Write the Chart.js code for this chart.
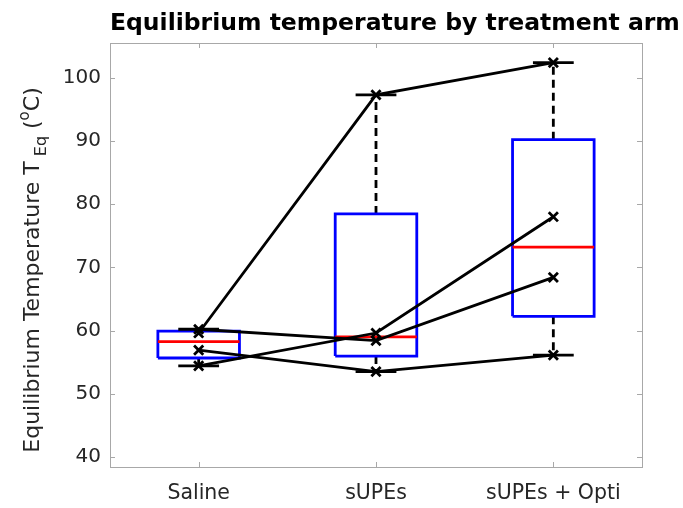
<!DOCTYPE html>
<html>
<head>
<meta charset="utf-8">
<script src="https://cdn.jsdelivr.net/npm/chart.js@4.4.0/dist/chart.umd.min.js"></script>
<style>
  html, body { margin: 0; padding: 0; background: #ffffff; }
  #wrap { width: 683px; height: 508px; }
</style>
</head>
<body>
<div id="wrap"><canvas id="c" width="683" height="508"></canvas></div>
<script>
// Treatment arms along the x axis
const categories = ['Saline', 'sUPEs', 'sUPEs + Opti'];

// Equilibrium temperature (°C) of each subject in each arm
const subjectA = [59.6, 97.3, 102.4];
const subjectB = [60.2, 58.4, 68.4];
const subjectC = [54.4, 59.6, 78.0];
const subjectD = [56.9, 53.5, 56.1];
const subjects = [subjectA, subjectB, subjectC, subjectD];

// Axis ticks and ranges
const yTicks = [40, 50, 60, 70, 80, 90, 100];
const yRange = [38.4, 105.5];
const xRange = [0.5, 3.5];

const FONT = '"DejaVu Sans", Verdana, sans-serif';
const BOX_HALF = 0.23;      // half box width, in category units
const CAP_HALF = BOX_HALF / 2;

// Percentile with the midpoint rule: sample i sits at (i - 0.5) / n
function pct(sorted, p) {
  const n = sorted.length;
  const pos = p * n + 0.5;           // 1-based position
  if (pos <= 1) return sorted[0];
  if (pos >= n) return sorted[n - 1];
  const lo = Math.floor(pos);
  const f = pos - lo;
  return sorted[lo - 1] + f * (sorted[lo] - sorted[lo - 1]);
}

function boxStats(values) {
  const s = values.slice().sort((a, b) => a - b);
  const q1 = pct(s, 0.25), med = pct(s, 0.5), q3 = pct(s, 0.75);
  const iqr = q3 - q1;
  const hi = Math.max(...s.filter(v => v <= q3 + 1.5 * iqr));
  const lo = Math.min(...s.filter(v => v >= q1 - 1.5 * iqr));
  return { q1, med, q3, lo, hi };
}

const datasets = [];

// Subject trajectories, drawn above the boxes
subjects.forEach(vals => {
  datasets.push({
    data: vals.map((v, i) => ({ x: i + 1, y: v })),
    showLine: true,
    borderColor: '#000000',
    borderWidth: 2.8,
    pointStyle: 'crossRot',
    pointRadius: 6.5,
    pointBorderWidth: 2.8,
    pointBorderColor: '#000000',
    pointBackgroundColor: '#000000'
  });
});

const lineSet = (pts, color, dash) => ({
  data: pts,
  showLine: true,
  borderColor: color,
  borderWidth: 2.8,
  borderDash: dash || [],
  borderJoinStyle: 'miter',
  borderCapStyle: 'butt',
  pointRadius: 0,
  pointHoverRadius: 0
});

categories.forEach((name, i) => {
  const c = i + 1;
  const st = boxStats(subjects.map(s => s[i]));
  // median
  datasets.push(lineSet([{ x: c - BOX_HALF, y: st.med }, { x: c + BOX_HALF, y: st.med }], '#ff0000'));
  // whisker caps
  datasets.push(lineSet([{ x: c - CAP_HALF, y: st.hi }, { x: c + CAP_HALF, y: st.hi }], '#000000'));
  datasets.push(lineSet([{ x: c - CAP_HALF, y: st.lo }, { x: c + CAP_HALF, y: st.lo }], '#000000'));
  // box
  datasets.push(lineSet([
    { x: c - BOX_HALF, y: st.q1 }, { x: c + BOX_HALF, y: st.q1 },
    { x: c + BOX_HALF, y: st.q3 }, { x: c - BOX_HALF, y: st.q3 },
    { x: c - BOX_HALF, y: st.q1 }
  ], '#0000ff'));
  // dashed whiskers
  datasets.push(lineSet([{ x: c, y: st.q3 }, { x: c, y: st.hi }], '#000000', [8, 5]));
  datasets.push(lineSet([{ x: c, y: st.q1 }, { x: c, y: st.lo }], '#000000', [8, 5]));
});

// Axes frame, inward tick marks, title and y-axis label with sub/superscripts
const decorations = {
  id: 'decorations',
  afterDraw(chart) {
    const { ctx, chartArea: a, scales } = chart;
    ctx.save();
    ctx.strokeStyle = '#a8a8a8';
    ctx.lineWidth = 1;
    ctx.strokeRect(a.left + 0.5, a.top + 0.5, a.right - a.left, a.bottom - a.top);
    ctx.beginPath();
    yTicks.forEach(v => {
      const y = Math.round(scales.y.getPixelForValue(v)) + 0.5;
      ctx.moveTo(a.left, y); ctx.lineTo(a.left + 5, y);
      ctx.moveTo(a.right, y); ctx.lineTo(a.right - 5, y);
    });
    [1, 2, 3].forEach(v => {
      const x = Math.round(scales.x.getPixelForValue(v)) + 0.5;
      ctx.moveTo(x, a.bottom); ctx.lineTo(x, a.bottom - 5);
      ctx.moveTo(x, a.top); ctx.lineTo(x, a.top + 5);
    });
    ctx.stroke();

    // title
    ctx.fillStyle = '#000000';
    ctx.font = 'bold 23.5px ' + FONT;
    ctx.textAlign = 'left';
    ctx.textBaseline = 'alphabetic';
    ctx.fillText('Equilibrium temperature by treatment arm', a.left, 30);

    // y-axis label
    const parts = [
      { t: 'Equilibrium Temperature T', size: 22, dy: 0 },
      { t: ' Eq', size: 16, dy: 7 },
      { t: ' (', size: 22, dy: 0 },
      { t: 'o', size: 15, dy: -10 },
      { t: 'C)', size: 22, dy: 0 }
    ];
    let total = 0;
    parts.forEach(p => { ctx.font = p.size + 'px ' + FONT; p.w = ctx.measureText(p.t).width; total += p.w; });
    const cy = (a.top + a.bottom) / 2 + 15;
    ctx.translate(39, cy);
    ctx.rotate(-Math.PI / 2);
    ctx.fillStyle = '#262626';
    let x = -total / 2;
    parts.forEach(p => {
      ctx.font = p.size + 'px ' + FONT;
      ctx.fillText(p.t, x, p.dy);
      x += p.w;
    });
    ctx.restore();
  }
};

new Chart(document.getElementById('c'), {
  type: 'scatter',
  data: { datasets },
  options: {
    responsive: false,
    animation: false,
    events: [],
    layout: { padding: { top: 43, right: 41, left: 0, bottom: 0 } },
    plugins: { legend: { display: false }, tooltip: { enabled: false }, title: { display: false } },
    elements: { line: { tension: 0 } },
    scales: {
      x: {
        type: 'linear',
        min: xRange[0], max: xRange[1],
        grid: { display: false, drawTicks: false },
        border: { display: false },
        afterBuildTicks: s => { s.ticks = categories.map((_, i) => ({ value: i + 1 })); },
        afterFit: s => { s.height = 41; },
        ticks: {
          callback: v => categories[Math.round(v) - 1],
          font: { family: FONT, size: 20.5 },
          color: '#262626',
          padding: 14,
          maxRotation: 0,
          autoSkip: false
        }
      },
      y: {
        type: 'linear',
        min: yRange[0], max: yRange[1],
        grid: { display: false, drawTicks: false },
        border: { display: false },
        afterBuildTicks: s => { s.ticks = yTicks.map(v => ({ value: v })); },
        afterFit: s => { s.width = 110; },
        ticks: {
          callback: v => String(v),
          font: { family: FONT, size: 20 },
          color: '#262626',
          padding: 9,
          autoSkip: false
        }
      }
    }
  },
  plugins: [decorations]
});
</script>
</body>
</html>
